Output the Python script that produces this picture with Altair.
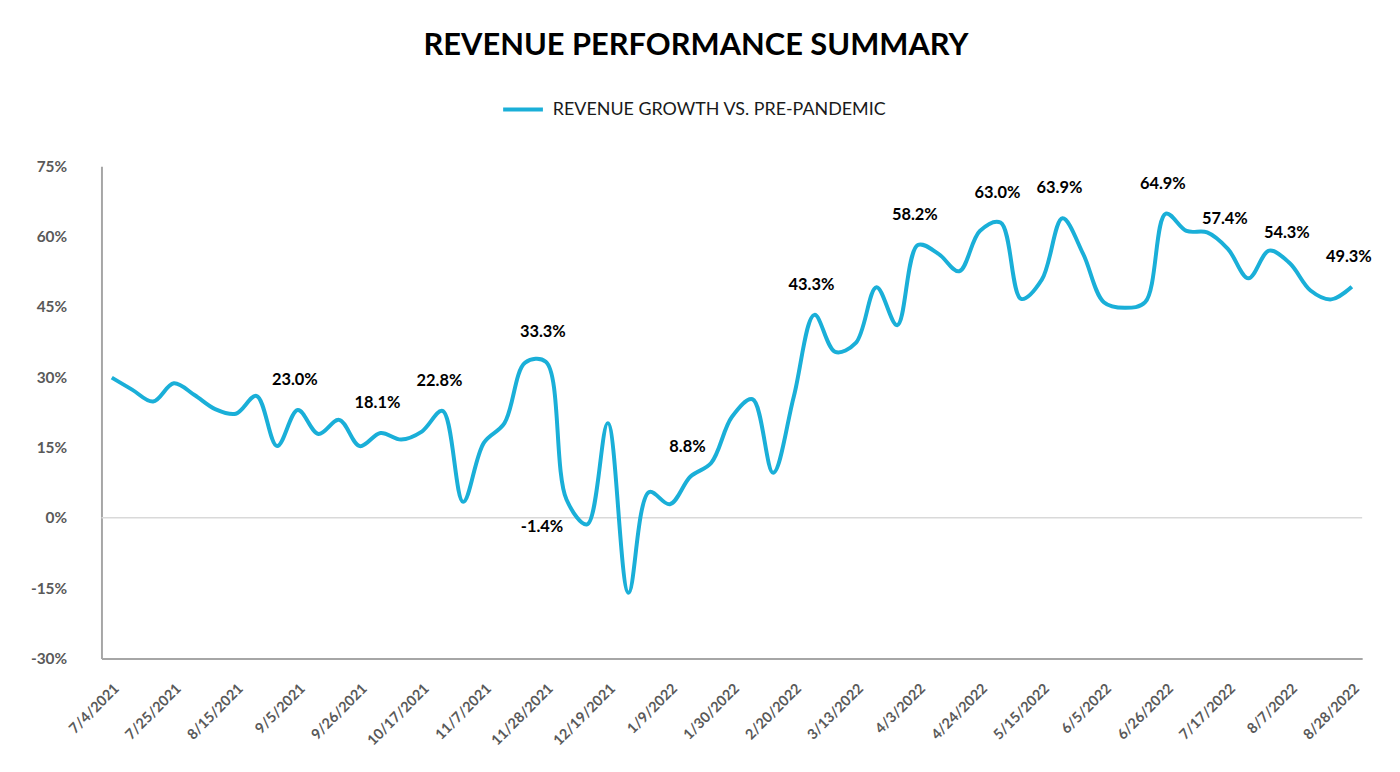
import altair as alt
import pandas as pd

# Weekly categories
weeks = [d.strftime("%-m/%-d/%Y") for d in pd.date_range("2021-07-04", "2022-08-28", freq="7D")]

growth = [
    29.9, 27.3, 24.8, 28.7, 26.2, 23.2, 22.2, 26.0, 15.3, 23.0,
    17.9, 20.9, 15.3, 18.1, 16.7, 18.4, 22.8, 3.4, 16.0, 20.2,
    33.1, 33.3, 3.9, -1.4, 20.2, -16.0, 5.5, 2.9, 8.8, 11.7,
    21.5, 25.3, 9.6, 25.9, 43.3, 35.4, 37.3, 49.2, 41.1, 58.2,
    56.3, 52.6, 61.2, 63.0, 46.7, 50.8, 63.9, 56.3, 46.0, 44.8,
    46.0, 64.9, 61.2, 60.9, 57.4, 51.1, 57.0, 54.3, 48.5, 46.6,
    49.3,
]

label_idx_above = [9, 13, 16, 21, 28, 34, 39, 43, 46, 51, 54, 57, 60]
label_idx_left = [23]

series_name = "REVENUE GROWTH VS. PRE-PANDEMIC"
tick_weeks = weeks[::3]
y_ticks = [-30, -15, 0, 15, 30, 45, 60, 75]

LINE = "#1AAFD8"
FONT = "Lato"

df = pd.DataFrame({"week": weeks, "value": growth, "series": series_name})
df_above = pd.DataFrame({
    "week": [weeks[i] for i in label_idx_above],
    "value": [growth[i] for i in label_idx_above],
})
df_above["text"] = df_above["value"].map(lambda v: f"{v:.1f}%")
df_left = pd.DataFrame({
    "week": [weeks[i] for i in label_idx_left],
    "value": [growth[i] for i in label_idx_left],
})
df_left["text"] = df_left["value"].map(lambda v: f"{v:.1f}%")

xscale = alt.Scale(type="point", domain=weeks, padding=0.5)
yscale = alt.Scale(domain=[-30, 75], nice=False)

x_enc = alt.X(
    "week:N",
    scale=xscale,
    sort=None,
    title=None,
    axis=alt.Axis(
        values=tick_weeks,
        labelAngle=-45,
        labelAlign="right",
        labelBaseline="top",
        labelPadding=23,
        labelFont=FONT,
        labelFontSize=14.5,
        labelFontWeight="bold",
        labelColor="#595959",
        ticks=False,
        domainColor="#A6A6A6",
        domainWidth=2,
        grid=False,
        labelOverlap=False,
    ),
)
y_enc = alt.Y(
    "value:Q",
    scale=yscale,
    title=None,
    axis=alt.Axis(
        values=y_ticks,
        labelExpr="datum.value + '%'",
        labelFont=FONT,
        labelFontSize=15.5,
        labelFontWeight="bold",
        labelColor="#595959",
        labelPadding=35,
        ticks=False,
        grid=False,
        domainColor="#A6A6A6",
        domainWidth=2,
    ),
)

zero = alt.Chart(pd.DataFrame({"v": [0]})).mark_rule(color="#D9D9D9", strokeWidth=1.5).encode(
    y=alt.Y("v:Q", scale=yscale)
)

line = alt.Chart(df).mark_line(interpolate="catmull-rom", strokeWidth=4).encode(
    x=x_enc,
    y=y_enc,
    color=alt.Color(
        "series:N",
        scale=alt.Scale(domain=[series_name], range=[LINE]),
        legend=alt.Legend(
            title=None,
            orient="none",
            legendX=402,
            legendY=-79,
            symbolType="stroke",
            symbolStrokeWidth=4,
            symbolSize=1600,
            labelOffset=8,
            labelFont=FONT,
            labelFontSize=18,
            labelColor="#1A1A1A",
            labelLimit=500,
        ),
    ),
)

labels_above = alt.Chart(df_above).mark_text(
    dy=-30, dx=-3, font=FONT, fontSize=16.5, fontWeight="bold", color="#000000"
).encode(
    x=alt.X("week:N", scale=xscale, sort=None),
    y=alt.Y("value:Q", scale=yscale),
    text="text:N",
)

labels_left = alt.Chart(df_left).mark_text(
    dy=3, dx=-24, align="right", font=FONT, fontSize=16.5, fontWeight="bold", color="#000000"
).encode(
    x=alt.X("week:N", scale=xscale, sort=None),
    y=alt.Y("value:Q", scale=yscale),
    text="text:N",
)

chart = alt.layer(zero, line, labels_above, labels_left).properties(
    width=1268,
    height=495,
    autosize=alt.AutoSizeParams(type="none"),
    padding={"left": 94, "top": 157, "right": 30, "bottom": 105},
    title=alt.TitleParams(
        "REVENUE PERFORMANCE SUMMARY",
        font=FONT,
        fontSize=31,
        fontWeight="bold",
        color="#000000",
        anchor="middle",
        dx=-36,
        offset=26,
    ),
).configure_view(stroke=None)

chart.save("out.html", embed_options={"renderer": "svg", "actions": False})
